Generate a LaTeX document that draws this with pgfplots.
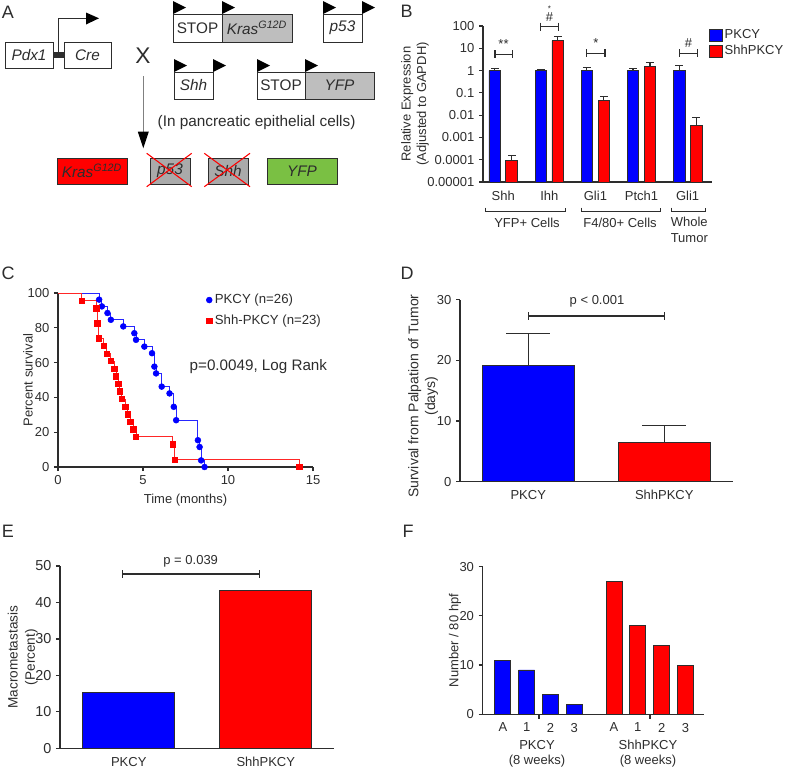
\documentclass[border=0pt]{standalone}
\usepackage{fontspec}
\setmainfont{Liberation Sans}
\usepackage{pgfplots}
\pgfplotsset{compat=1.18}
\usepackage{pgfplotstable}

\definecolor{dark}{RGB}{45,45,45}
\definecolor{pblue}{RGB}{0,0,255}
\definecolor{pred}{RGB}{255,0,0}
\definecolor{boxgray}{RGB}{190,190,190}
\definecolor{xgray}{RGB}{170,170,170}
\definecolor{yfpgreen}{RGB}{122,192,67}

\newcommand\fs{\fontsize{9.75}{11.5}\selectfont}

% Kaplan-Meier steps (months, percent surviving)
\pgfplotstableread{
t s
0 100
2.42 96.2
2.58 92.3
2.91 88.5
3.11 84.6
3.84 80.8
4.49 76.9
4.59 73.1
5.08 69.2
5.53 65.4
5.67 57.7
5.77 53.8
6.10 46.2
6.56 42.3
6.81 34.6
6.95 26.9
8.23 15.4
8.33 11.5
8.42 3.8
8.62 0
}\kmpkcy
\pgfplotstableread{
t s
0 100
1.40 95.7
2.25 91.3
2.30 82.6
2.38 73.9
2.68 69.6
2.85 65.2
3.11 60.9
3.31 56.5
3.41 52.2
3.54 47.8
3.62 43.5
3.74 39.1
3.96 34.8
4.09 30.4
4.25 26.1
4.43 21.7
4.59 17.4
6.75 13.0
6.85 4.3
14.2 0
}\kmshh

% relative expression; groups sit at 1..5, bars either side
\pgfplotstableread{
x y e
0.816 1 0.23
1.816 1 0.10
2.816 1 0.40
3.816 1 0.23
4.816 1 0.67
}\exppkcy
\pgfplotstableread{
x y e
1.184 0.000092 0.00007
2.184 22 12.6
3.184 0.045 0.021
4.184 1.57 0.8
5.184 0.0035 0.004
}\expshh

\pgfplotsset{
  gp/.style={
    scale only axis, clip=false, anchor=south west,
    axis lines=left, axis line style={-, line width=0.9pt, dark},
    every tick/.style={dark, line width=0.9pt},
    tick align=outside, major tick length=3pt,
    tick label style={font=\fs, text=dark},
    label style={font=\fs, text=dark, align=center},
    /pgf/number format/assume math mode=true,
    error bars/y dir=plus, error bars/y explicit, error bars/error mark=|,
  },
  gpbar/.style={ybar, bar shift=0pt, draw=dark, line width=0.6pt},
}

\begin{document}
\begin{tikzpicture}
\path[use as bounding box] (0,0) rectangle (600pt,-581.25pt);

% ---------------- B
\begin{axis}[gp, at={(362.25pt,-136.5pt)}, width=171.75pt, height=117pt,
  ymode=log, log origin=infty, ymin=1e-5, ymax=100, yminorticks=false,
  ytick={1e-5,1e-4,1e-3,1e-2,1e-1,1,10,100},
  yticklabels={0.00001,0.0001,0.001,0.01,0.1,1,10,100},
  xmin=0.56, xmax=5.53, xtick={1,...,5},
  xticklabels={Shh,Ihh,Gli1,Ptch1,Gli1}, xtick style={draw=none},
  ylabel={Relative Expression\\(Adjusted to GAPDH)},
  ylabel style={at={(axis description cs:-0.297,0.5)}, anchor=center},
  legend style={draw=none, fill=none, at={(0.97,1.01)}, anchor=north west,
    font=\fs, text=dark, nodes={inner sep=1.5pt}, row sep=0.5pt},
  legend cell align=left,
  legend image code/.code={\draw[#1, draw=dark, line width=0.5pt] (0pt,-4.5pt) rectangle (9.5pt,4.5pt);},
  error bars/error bar style={dark, line width=0.8pt},
  error bars/error mark options={dark, line width=0.8pt, mark size=3pt},
]
\addplot[gpbar, bar width=8.8pt, fill=pblue]
  table[x=x, y=y, y error=e]{\exppkcy};
\addlegendentry{PKCY}
\addplot[gpbar, bar width=8.8pt, fill=pred]
  table[x=x, y=y, y error=e]{\expshh};
\addlegendentry{ShhPKCY}
\end{axis}

% ---------------- C
\begin{axis}[gp, at={(43.5pt,-350.25pt)}, width=191.25pt, height=130.5pt,
  xmin=0, xmax=15, ymin=0, ymax=100, xtick={0,5,10,15}, ytick={0,20,...,100},
  xlabel={Time (months)}, ylabel={Percent survival},
  ylabel style={at={(axis description cs:-0.118,0.5)}, anchor=center},
  legend style={draw=none, fill=none, at={(0.565,1.025)}, anchor=north west,
    font=\fontsize{9.9}{11}\selectfont, text=dark, nodes={inner sep=2pt}, row sep=3pt},
  legend cell align=left,
]
\addplot[const plot, pblue!85!white, line width=0.7pt, forget plot] table[x=t, y=s]{\kmpkcy};
\addplot[const plot, pred!85!white, line width=0.7pt, forget plot] table[x=t, y=s]{\kmshh};
\addplot[only marks, mark=*, mark size=2.2pt, pblue, skip coords between index={0}{1}]
  table[x=t, y=s]{\kmpkcy};
\addlegendentry{PKCY (n=26)}
\addplot[only marks, mark=square*, mark size=2pt, pred, skip coords between index={0}{1}]
  table[x=t, y=s]{\kmshh};
\addlegendentry{Shh-PKCY (n=23)}
\end{axis}

% ---------------- D
\begin{axis}[gp, at={(345pt,-361.3pt)}, width=204.5pt, height=136.6pt,
  xmin=-0.502, xmax=1.503, ymin=0, ymax=30, ytick={0,10,20,30},
  xtick={0,1}, xticklabels={PKCY,ShhPKCY}, xtick style={draw=none},
  ylabel={Survival from Palpation of Tumor\\(days)},
  ylabel style={at={(axis description cs:-0.135,0.47)}, anchor=center,
    font=\fontsize{10.5}{12.5}\selectfont},
  error bars/error bar style={dark, line width=0.9pt},
  error bars/error mark options={dark, line width=0.9pt, mark size=16.5pt},
]
\addplot[gpbar, bar width=68.5pt, fill=pblue] table[x=x, y=y, y error=e]{
x y e
0 19.2 5.25
};
\addplot[gpbar, bar width=68.5pt, fill=pred] table[x=x, y=y, y error=e]{
x y e
1 6.54 2.66
};
\end{axis}

% ---------------- E
\begin{axis}[gp, at={(45pt,-561.2pt)}, width=205.5pt, height=136.7pt,
  xmin=-0.502, xmax=1.498, ymin=0, ymax=50, ytick={0,10,...,50},
  xtick={0,1}, xticklabels={PKCY,ShhPKCY}, xtick style={draw=none},
  yticklabel style={font=\fontsize{10.8}{12}\selectfont},
  ylabel={Macrometastasis\\(Percent)},
  ylabel style={at={(axis description cs:-0.136,0.5)}, anchor=center,
    font=\fontsize{10.2}{12.8}\selectfont},
]
\addplot[gpbar, bar width=69pt, fill=pblue] table{
x y
0 15.3
};
\addplot[gpbar, bar width=69pt, fill=pred] table{
x y
1 43.4
};
\end{axis}

% ---------------- F
\begin{axis}[gp, at={(362pt,-535.7pt)}, width=166pt, height=110.7pt,
  xmin=-0.85, xmax=8.45, ymin=0, ymax=30, ytick={0,10,20,30},
  xtick={0,1,2,3,4.67,5.67,6.67,7.67}, xticklabels={A,1,2,3,A,1,2,3},
  xtick style={draw=none},
  ylabel={Number / 80 hpf},
  ylabel style={at={(axis description cs:-0.125,0.5)}, anchor=center},
]
\addplot[gpbar, bar width=12pt, fill=pblue] table{
x y
0 11
1 9
2 4
3 2
};
\addplot[gpbar, bar width=12pt, fill=pred] table{
x y
4.67 27
5.67 18
6.67 14
7.67 10
};
\end{axis}

% ---------------- annotations and schematic, in pixel units
\begin{scope}[x=0.75pt, y=-0.75pt, font=\fontsize{11.5}{13.5}\selectfont, text=dark]
\tikzset{lbl/.style={font=\fontsize{13.5}{15}\selectfont}}
\node[lbl] at (8,12) {A};
\node[lbl] at (406.5,11) {B};
\node[lbl] at (8,273) {C};
\node[lbl] at (407,273) {D};
\node[lbl] at (8,531.7) {E};
\node[lbl] at (408,531) {F};

% Pdx1-Cre
\draw[dark, line width=0.6pt] (5,42) rectangle (53,68);
\node at (29,55) {\itshape Pdx1};
\fill[dark] (53,52) rectangle (64,58);
\draw[dark, line width=0.6pt] (64,42) rectangle (111,68);
\node at (87.5,55) {\itshape Cre};
\draw[dark, line width=0.7pt] (58.3,52) -- (58.3,18.3) -- (87,18.3);
\fill[black] (86,12.5) -- (99,18.3) -- (86,24.5) -- cycle;

\node[font=\fontsize{17}{19}\selectfont] at (143,56) {X};

% loxP flags
\foreach \fx/\fy in {173/14, 222/14, 323/14, 362/14, 174/72, 213/72, 257/72, 305/72}
  \fill[black] (\fx,\fy) -- (\fx,\fy-13) -- (\fx+13,\fy-6.5) -- cycle;

\draw[dark, line width=0.6pt] (173,14) rectangle (222,42);
\draw[dark, line width=0.6pt, fill=boxgray] (222,14) rectangle (292,42);
\node at (197.5,28) {STOP};
\node at (257,28) {\itshape Kras\textsuperscript{G12D}};
\draw[dark, line width=0.6pt] (323,14) rectangle (362,42);
\node at (342.5,28) {\itshape p53};
\draw[dark, line width=0.6pt] (174,72) rectangle (213,99);
\node at (193.5,85.5) {\itshape Shh};
\draw[dark, line width=0.6pt] (257,72) rectangle (305,99);
\draw[dark, line width=0.6pt, fill=boxgray] (305,72) rectangle (374,99);
\node at (281,85.5) {STOP};
\node at (339.5,85.5) {\itshape YFP};

\draw[gray, line width=0.7pt] (143,76) -- (143,133);
\fill[black] (137.8,131.7) -- (148.8,131.7) -- (143.3,148.3) -- cycle;
\node[anchor=west] at (153,123) {(In pancreatic epithelial cells)};

\draw[dark, line width=0.6pt, fill=pred] (57,158) rectangle (127,184);
\node at (92,171) {\itshape Kras\textsuperscript{G12D}};
\draw[dark, line width=0.6pt, fill=xgray] (150,158) rectangle (190,184);
\node at (170,171) {\itshape p53};
\draw[pred, line width=0.8pt] (146.7,153.3) -- (191.7,186.7) (191.7,153.3) -- (146.7,186.7);
\draw[dark, line width=0.6pt, fill=xgray] (208,158) rectangle (248,184);
\node at (228,171) {\itshape Shh};
\draw[pred, line width=0.8pt] (204.3,153.3) -- (250,186.7) (250,153.3) -- (204.3,186.7);
\draw[dark, line width=0.6pt, fill=yfpgreen] (267,158) rectangle (337,184);
\node at (302,171) {\itshape YFP};

% B significance brackets
\begin{scope}[font=\fs]
\foreach \ax/\bx/\by in {495/512.7/54.3, 540.7/558.3/26.7, 586.7/605/53.3, 679.3/697.7/53.3}
  \draw[dark, line width=0.8pt] (\ax,\by) -- (\bx,\by) (\ax,\by-4) -- (\ax,\by+4) (\bx,\by-4) -- (\bx,\by+4);
\node at (503.5,44) {**};
\node at (549.5,17.5) {\#};
\node[font=\fontsize{6}{7}\selectfont, inner sep=0pt] at (549.5,8.5) {*};
\node at (595.8,43) {*};
\node at (688.5,43) {\#};
% B group brackets
\foreach \ax/\bx in {485/565, 581.7/660, 671.7/705}
  \draw[dark, line width=0.7pt] (\ax,207.5) -- (\ax,211.7) -- (\bx,211.7) -- (\bx,207.5);
\node at (527,223) {YFP+ Cells};
\node at (620,223) {F4/80+ Cells};
\node[align=center] at (689.3,230) {Whole\\Tumor};

% C
\node[anchor=west, font=\fontsize{11.4}{13}\selectfont] at (185,367) {p=0.0049, Log Rank};

% D
\draw[dark, line width=0.8pt] (528.3,316) -- (664.3,316) (528.3,312) -- (528.3,320) (664.3,312) -- (664.3,320);
\node at (597,301) {p < 0.001};

% E
\draw[dark, line width=0.8pt] (122.7,574) -- (259.3,574) (122.7,570) -- (122.7,578) (259.3,570) -- (259.3,578);
\node at (190.7,561) {p = 0.039};

% F
\draw[dark, line width=0.9pt] (539,714.3) -- (539,718.5) (650,714.3) -- (650,718.5);
\node[align=center] at (537,753.5) {PKCY\\(8 weeks)};
\node[align=center] at (648,753.5) {ShhPKCY\\(8 weeks)};
\end{scope}
\end{scope}
\end{tikzpicture}
\end{document}
